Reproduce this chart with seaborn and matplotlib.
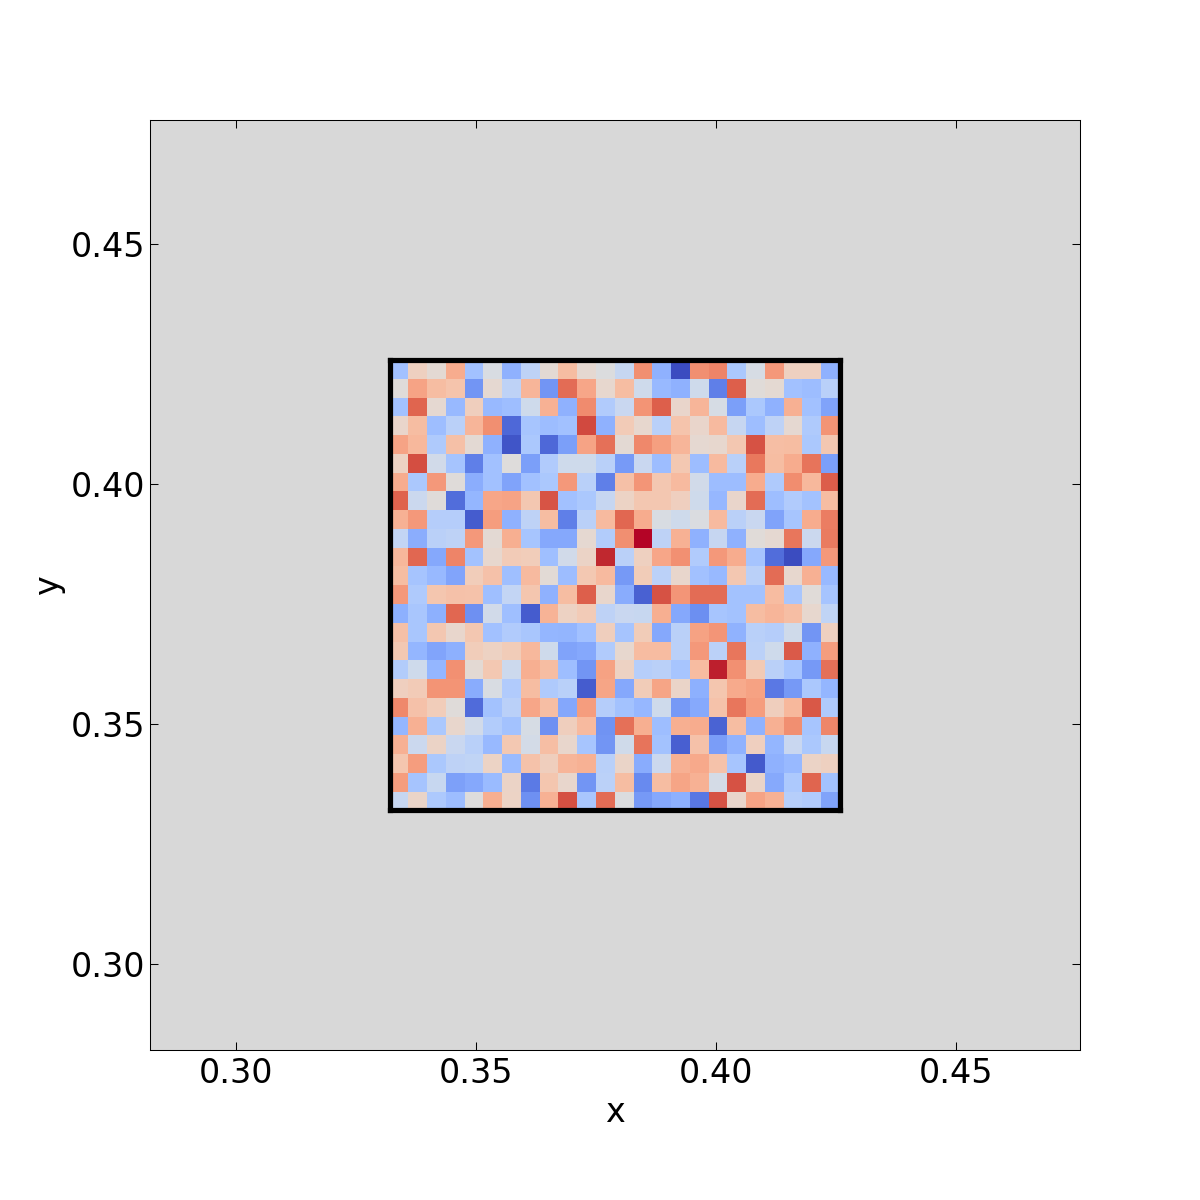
import numpy as np
import matplotlib
matplotlib.use("Agg")
import matplotlib.pyplot as plt
from matplotlib.colors import TwoSlopeNorm
import seaborn as sns

# ========== DATA (-10..10 on the colour scale) ==========
row_00 = [-3.5, 1.5, 0.5, 4, -3.5, -0.3, -4.5, -2, 0.5, 3, 0.7, -0.1, -1.5, 5.5, -4.5, -10, 5.5, 6, -3, -0.5, 5, 1.5, 1.5, -4.5]
row_01 = [0.2, 4.5, 3, 2.5, -6, 0.7, -2, 3.5, -6, 7, 4.3, 0.8, 3, -1, -4, -4.5, -1, -7, 7.5, 0.3, 0.6, -3.5, -3.8, -2.3]
row_02 = [-3.5, 7.3, 0.7, -4, 1.7, -4, -3.7, -1, 3.7, -4.5, 5.7, -2.7, -1.3, 5.3, 7.5, 1, 3.5, -0.5, -5.5, -3, -4.5, 3.8, -3.5, -5.3]
row_03 = [1, 3, -3.7, -2.2, 3.5, 5.5, -8, -3.2, -3.8, -3.5, 8.3, -4.5, 2, 0.8, -2.3, 2.5, 1, 3.2, -1.5, -3.7, -2, 0.7, -2.8, 5.3]
row_04 = [4.5, 3.3, -2.8, 2.8, 0.5, -4.5, -8.8, -3, -8, -5.5, 4.5, 6.8, 0.5, 5.8, 4.7, 3.5, 0.7, 0.8, 2.3, 8, 2.9, 3, -3, 2.3]
row_05 = [1.4, 8.2, -0.8, -3.3, -7, -3.5, 0.1, -5.5, -2.7, -1, -1, -2.3, -5.7, -1.3, -3.8, 2.2, -3.8, 3.2, -2.3, 6.5, 3, 4, 6.7, -5.5]
row_06 = [4, -3, 5, 0.2, -4.7, -3.5, -5.3, -3.5, -3, 5, -2.3, -7, 2.8, 5.2, 2.3, 3.2, -0.8, -3.8, -3.8, 4, -2.8, 5.6, 3.3, 7.6]
row_07 = [7.4, -1.2, 0.2, -7.8, -4.2, 4.3, 4.5, 2.3, 7.9, -3.5, -3, -1.5, 1.3, 2.3, 2.3, 1.6, -1, -4.1, 1, 7, -3.7, -2.7, -3.4, 3]
row_08 = [3.7, 5, -2.5, -2.5, -8.5, 4.8, -4.5, -2, 3, -7, -2.2, 3.2, 7.2, 4, -0.3, -1, -0.2, 3.2, -2.2, -1.3, -5.3, -3.2, 4, 6.3]
row_09 = [-1.7, -4.7, -2.2, -2, 5, 0.5, 3.9, -3.2, -5, -5, 0.7, -2.6, 5.5, 10, -2, 3.7, -4.5, -1.5, -4.5, 0.3, 0.7, 6.6, -1.2, 6.4]
row_10 = [3.4, 7.2, -5, 6, -3.4, 0.8, 2, 1.8, -3.6, -0.8, 1.2, 9.3, -2.2, 1.5, 4.3, 5.4, -2.7, 5, 4, -3.3, -7.8, -9.8, -5, 5]
row_11 = [3, -3.3, -4, -5.2, 1.8, 2.7, -3.6, 3.2, 0.4, -3.8, 2.2, 3.2, -5.8, 1.9, -2.1, 0.9, -3.5, -4, 2.3, -2.2, 7, 0.8, 3.8, -4]
row_12 = [5, -2.8, 2.4, 2.7, 2.6, -3.6, -1.7, 2.4, -4.5, 3, 7.5, 0.9, -4.8, -8.3, 8, 5.2, 7, 7, -3.4, -3.4, 3.1, -3.1, 0.3, -3.3]
row_13 = [-4.6, -3.1, -4.6, 7.2, -6.2, -0.8, -3.6, -8.5, 3.6, 1.4, 2, -2, -1.3, -1.4, 3.9, -5, -6.3, -3.2, -3.4, 3, 3.5, 2.9, 0.8, -1.8]
row_14 = [2.8, -3.1, 2.3, 0.9, 2.3, -3.5, -2.7, -3.1, -4.2, -4.3, -3.5, 1.7, -3.3, 1.9, -5, -2.2, 4.6, 5.2, -4.4, -2.3, -2.5, -0.9, -6, 1.5]
row_15 = [2.2, -4.2, -5.2, -4.6, 1.8, 1.4, 1.9, 3.3, -1, -5.3, -5, -2.7, 0.8, 3.1, 3.1, -2.2, 5, -2.1, 6.6, -2.1, -1, 7.7, -4.5, 4.8]
row_16 = [-2.6, -1, -4.2, 5.4, 0.5, 2.2, -1.1, 3.9, 3, -3.7, -6, 4.6, 1.4, -2.4, -2.2, -3.2, 3.1, 9.5, 5.4, 2.1, -2.2, -3.3, -5.8, 6.8]
row_17 = [1.6, 2, 5.3, 5.3, -4.8, -0.3, -2.7, 3, -2.8, -2.3, -8.5, 4.4, -5, 1.9, 4.4, 1.1, -4.6, 2.4, 4.1, 4.6, -7.3, -5.8, -3, -4.2]
row_18 = [5.8, 2.7, 1.8, 0.2, -7.9, -3.4, -2.2, 4.3, 2.9, -5.1, 4.8, -2.5, -3.4, -4.1, -1, -5.8, -4.9, 2.6, 6.6, 4.8, 1.7, 3.3, 7.8, -2.8]
row_19 = [-4.2, 3.8, -3, 0.9, -0.8, -2.6, -3.4, -0.5, -6.2, 1.7, 3.2, -6.1, 6.8, 3.9, -3.7, 3.9, 4, -8.2, 3, -4.4, 3.8, 5.5, -3.2, 5.9]
row_20 = [3.8, -1.2, 1.2, -1.3, -2.3, -4, 2.2, -0.7, 2.9, 0.9, -3.2, -6, -0.9, 6.7, -3.4, -8.4, 2.7, -5.6, -4.4, 1.6, -4.2, -1.3, -3, -1.4]
row_21 = [2.4, 4.8, -3, -2, -1.8, 1.3, -3.9, 2.6, 1.7, 3.5, 3.7, -2.3, 1.1, -4.8, -1.2, 3.8, 4.2, 2.6, -3.2, -8.6, -4.5, -4, 1.2, 1.5]
row_22 = [4.8, -3.3, -1.4, -5.4, -5, -3.9, 1.2, -7.2, 2.4, 0.9, -6, -2.1, 3, -6.5, 3, 4.4, 3.7, -0.6, 8, 1.1, -4.9, -2.9, 7.3, -3.4]
row_23 = [-1.5, 1.1, -2.9, -3.8, 0, 3.9, 1.3, -6.2, 3.7, 8.1, -3.1, 7, -0.1, -5.8, -5, -4.6, -7.4, 8, 1, 4.5, 3.7, -2.4, -2.7, -5.3]

cells = np.array([row_00, row_01, row_02, row_03, row_04, row_05, row_06, row_07,
                  row_08, row_09, row_10, row_11, row_12, row_13, row_14, row_15,
                  row_16, row_17, row_18, row_19, row_20, row_21, row_22, row_23])

tick_values = [0.30, 0.35, 0.40, 0.45]
tick_labels = ["0.30", "0.35", "0.40", "0.45"]
limits = (0.2822, 0.4758)
box_start = 0.3321
box_size = 0.0937

# ========== GRAFICA ==========
sns.set_style("ticks")
plt.rcParams["font.family"] = ["DejaVu Sans"]

fig, ax = plt.subplots(figsize=(8, 8), dpi=150)
fig.subplots_adjust(left=0.125, right=0.9, bottom=0.125, top=0.9)
ax.set_facecolor("#d8d8d8")
ax.set_xlim(limits)
ax.set_ylim(limits)
ax.set_xticks(tick_values, tick_labels)
ax.set_yticks(tick_values, tick_labels)
ax.tick_params(direction="in", length=4, width=0.5, top=True, right=True,
               labelsize=16, color="black", labelcolor="black")
ax.tick_params(axis="x", pad=3.5)
ax.tick_params(axis="y", pad=2.5)
for spine in ax.spines.values():
    spine.set_linewidth(0.5)
    spine.set_color("black")
ax.set_xlabel("x", fontsize=16, color="black", labelpad=2.5)
ax.set_ylabel("y", fontsize=16, color="black", labelpad=2.5)

# the grid sits in data coordinates of the main axes
inner = ax.inset_axes([box_start, box_start, box_size, box_size], transform=ax.transData)
sns.heatmap(cells, ax=inner, cmap="coolwarm", norm=TwoSlopeNorm(vcenter=0, vmin=-9.2, vmax=10),
            cbar=False, xticklabels=False, yticklabels=False)
inner.tick_params(left=False, bottom=False)
for spine in inner.spines.values():
    spine.set_visible(True)
    spine.set_linewidth(2.5)
    spine.set_color("black")

fig.savefig("out.png", dpi=150)
